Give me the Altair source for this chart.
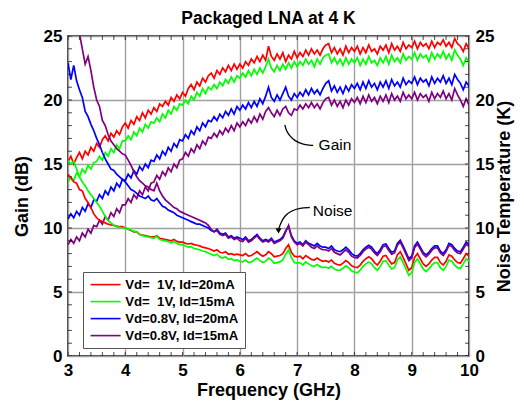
import altair as alt
import pandas as pd

# ---------------- data ----------------
FREQ = [round(3.0 + 0.05 * i, 2) for i in range(141)]  # GHz sample positions

SERIES = ["Vd=\u00a0 1V, Id=20mA", "Vd=\u00a0 1V, Id=15mA", "Vd=0.8V, Id=20mA", "Vd=0.8V, Id=15mA"]
COLORS = ["#ff0000", "#00ff00", "#0000ff", "#800080"]

GAIN_R = [15.2, 15.6, 15.0, 15.5, 15.9, 15.4, 16.0, 15.7, 16.3, 16.0,
          16.6, 16.3, 16.9, 17.2, 16.8, 17.4, 17.1, 17.6, 17.3, 17.9,
          18.2, 17.8, 18.4, 18.1, 18.7, 18.4, 19.0, 18.6, 19.2, 18.9,
          19.4, 19.1, 19.7, 19.5, 19.9, 19.6, 20.2, 19.9, 20.4, 20.1,
          20.6, 20.3, 20.9, 21.2, 20.8, 21.4, 21.1, 21.7, 21.4, 21.9,
          22.1, 21.7, 22.3, 22.0, 22.5, 22.2, 22.7, 22.3, 22.8, 22.4,
          22.8, 22.5, 23.0, 22.7, 23.2, 22.9, 23.4, 23.0, 23.5, 23.1,
          24.2, 23.4, 23.1, 23.6, 23.2, 23.7, 23.0, 23.5, 23.2, 23.8,
          23.3, 23.7, 23.4, 23.9, 23.5, 24.0, 23.6, 23.9, 23.5, 24.0,
          24.3, 24.4, 23.7, 24.1, 23.6, 24.0, 23.5, 24.2, 23.7, 24.1,
          23.8, 24.2, 23.6, 24.1, 23.7, 24.3, 23.8, 24.0, 23.6, 24.2,
          23.9, 24.3, 23.7, 24.4, 23.9, 24.2, 23.8, 24.5, 24.0, 24.3,
          24.1, 24.6, 24.0, 24.5, 24.2, 24.4, 24.0, 24.6, 24.1, 24.5,
          24.3, 24.7, 24.2, 24.5, 24.1, 24.8, 24.4, 24.2, 23.8, 24.4,
          24.0]
GAIN_G = [13.6, 14.0, 13.7, 14.3, 14.0, 14.6, 14.3, 14.9, 14.6, 15.1,
          15.2, 15.6, 15.3, 15.9, 15.6, 16.2, 15.9, 16.5, 16.2, 16.8,
          16.8, 17.2, 16.9, 17.5, 17.2, 17.8, 17.5, 18.1, 17.8, 18.3,
          18.2, 18.6, 18.3, 18.9, 18.6, 19.2, 18.9, 19.5, 19.2, 19.7,
          19.6, 20.0, 19.7, 20.3, 20.0, 20.6, 20.3, 20.9, 20.5, 21.0,
          20.8, 21.2, 20.9, 21.4, 21.1, 21.6, 21.3, 21.8, 21.4, 21.9,
          21.7, 22.1, 21.8, 22.3, 21.9, 22.4, 22.0, 22.5, 22.1, 22.6,
          23.2, 22.5, 22.2, 22.7, 22.3, 22.8, 22.4, 22.9, 22.5, 23.0,
          22.6, 23.0, 22.7, 23.2, 22.8, 23.1, 22.6, 23.2, 22.8, 23.3,
          23.5, 23.6, 22.9, 23.3, 22.8, 23.2, 22.7, 23.3, 22.8, 23.2,
          22.9, 23.3, 22.7, 23.2, 22.8, 23.4, 22.9, 23.1, 22.7, 23.3,
          22.9, 23.4, 22.8, 23.5, 23.0, 23.3, 22.9, 23.6, 23.1, 23.4,
          23.2, 23.7, 23.1, 23.6, 23.3, 23.5, 23.0, 23.7, 23.2, 23.6,
          23.3, 23.8, 23.2, 23.6, 23.1, 23.9, 23.5, 23.2, 22.7, 23.3,
          22.9]
GAIN_B = [10.7, 11.1, 10.8, 11.3, 11.0, 11.6, 11.3, 11.9, 11.6, 12.2,
          12.1, 12.6, 12.3, 12.9, 12.6, 13.2, 12.9, 13.5, 13.2, 13.8,
          13.7, 14.2, 13.9, 14.5, 14.2, 14.8, 14.5, 15.0, 14.7, 15.3,
          15.2, 15.7, 15.4, 16.0, 15.7, 16.3, 16.0, 16.6, 16.3, 16.9,
          16.8, 17.3, 17.0, 17.6, 17.3, 17.9, 17.6, 18.2, 17.9, 18.4,
          18.3, 18.7, 18.4, 18.9, 18.6, 19.1, 18.8, 19.3, 18.9, 19.5,
          19.2, 19.6, 19.3, 19.8, 19.4, 19.9, 19.5, 20.1, 19.7, 20.3,
          21.0, 20.2, 19.9, 20.4, 20.0, 20.5, 21.0, 20.3, 20.0, 20.5,
          20.2, 20.6, 20.3, 20.8, 20.4, 20.9, 20.5, 20.8, 20.4, 20.9,
          21.3, 21.5, 20.7, 21.1, 20.6, 21.0, 20.5, 21.1, 20.7, 21.2,
          20.9, 21.3, 20.8, 21.4, 20.9, 21.5, 21.0, 21.3, 20.8, 21.4,
          21.0, 21.5, 20.9, 21.6, 21.1, 21.4, 21.0, 21.7, 21.2, 21.5,
          21.3, 21.8, 21.2, 21.7, 21.4, 21.6, 21.1, 21.8, 21.3, 21.7,
          21.4, 21.9, 21.3, 21.7, 21.2, 22.0, 21.6, 21.3, 20.8, 21.4,
          21.1]
GAIN_P = [8.7, 9.1, 8.8, 9.3, 9.0, 9.6, 9.3, 9.9, 9.6, 10.2,
          10.1, 10.6, 10.3, 10.9, 10.6, 11.2, 10.9, 11.5, 11.2, 11.8,
          11.8, 12.3, 12.0, 12.6, 12.3, 12.9, 12.6, 13.2, 12.9, 13.5,
          13.6, 14.1, 13.8, 14.4, 14.1, 14.7, 14.4, 15.0, 14.7, 15.3,
          15.4, 15.9, 15.6, 16.2, 15.9, 16.5, 16.2, 16.8, 16.5, 17.1,
          17.0, 17.4, 17.1, 17.6, 17.3, 17.8, 17.5, 18.0, 17.6, 18.2,
          17.9, 18.3, 18.0, 18.5, 18.2, 18.7, 18.3, 18.9, 18.5, 19.1,
          19.4, 19.0, 18.7, 19.2, 18.8, 19.3, 19.5, 19.0, 18.8, 19.3,
          19.2, 19.6, 19.3, 19.7, 19.4, 19.8, 19.4, 19.7, 19.3, 19.8,
          20.1, 20.2, 19.6, 20.0, 19.5, 19.9, 19.4, 20.0, 19.6, 20.1,
          19.8, 20.2, 19.7, 20.3, 19.8, 20.4, 19.9, 20.2, 19.7, 20.3,
          19.9, 20.4, 19.8, 20.5, 20.0, 20.3, 19.9, 20.6, 20.1, 20.4,
          20.1, 20.6, 20.0, 20.5, 20.2, 20.4, 19.9, 20.6, 20.1, 20.5,
          20.2, 20.7, 20.1, 20.5, 20.0, 20.9, 20.4, 20.0, 19.5, 20.1,
          19.6]

NOISE_R = [14.2, 13.9, 13.6, 13.5, 13.0, 12.9, 12.3, 12.0, 11.6, 11.1,
           10.8, 10.6, 10.5, 10.4, 10.3, 10.25, 10.2, 10.15, 10.1, 10.1,
           10.0, 9.9, 9.8, 9.7, 9.7, 9.5, 9.45, 9.4, 9.35, 9.3,
           9.3, 9.4, 9.2, 9.15, 9.1, 9.05, 9.0, 9.1, 8.95, 8.9,
           8.9, 8.8, 8.75, 8.8, 8.7, 8.65, 8.6, 8.5, 8.45, 8.4,
           8.3, 8.2, 8.3, 8.1, 8.05, 8.15, 7.95, 8.0, 7.9, 7.95,
           7.9, 7.85, 8.0, 7.8, 7.85, 8.0, 8.15, 7.95, 7.8, 7.9,
           8.15, 8.0, 7.75, 7.8, 7.85, 8.0, 8.4, 8.7, 8.1, 7.8,
           7.75, 7.8, 7.6, 7.85, 7.7, 7.55, 7.5, 7.65, 7.5, 7.4,
           7.45, 7.35, 7.5, 7.25, 7.15, 7.1, 7.25, 7.45, 7.3, 7.05,
           6.95, 6.9, 7.1, 7.4, 7.6, 7.75, 7.6, 7.3, 7.1, 7.4,
           7.8, 7.85, 7.5, 7.2, 7.3, 7.9, 8.15, 7.7, 7.2, 6.7,
           6.9, 7.7, 8.0, 7.6, 7.2, 7.0, 7.2, 7.5, 7.7, 7.7,
           7.3, 7.1, 7.4, 7.9, 7.8, 7.5, 7.3, 7.25, 7.6, 8.0,
           7.8]
NOISE_G = [15.3, 15.0, 15.2, 14.6, 14.0, 13.6, 13.3, 12.9, 12.6, 12.3,
           12.0, 11.7, 11.3, 10.9, 10.6, 10.4, 10.2, 10.1, 10.05, 10.0,
           10.0, 9.95, 9.85, 9.75, 9.7, 9.5, 9.4, 9.35, 9.3, 9.25,
           9.2, 9.35, 9.1, 9.05, 9.0, 8.95, 8.85, 8.95, 8.8, 8.7,
           8.7, 8.6, 8.5, 8.55, 8.4, 8.35, 8.3, 8.2, 8.15, 8.05,
           7.95, 7.85, 7.95, 7.75, 7.65, 7.75, 7.55, 7.6, 7.45, 7.5,
           7.4, 7.35, 7.5, 7.3, 7.35, 7.5, 7.65, 7.45, 7.3, 7.4,
           7.65, 7.5, 7.25, 7.3, 7.35, 7.5, 7.95, 8.3, 7.7, 7.3,
           7.25, 7.3, 7.1, 7.35, 7.2, 7.05, 7.0, 7.15, 7.0, 6.9,
           6.95, 6.85, 7.0, 6.8, 6.7, 6.7, 6.85, 7.05, 6.9, 6.65,
           6.55, 6.5, 6.7, 7.0, 7.2, 7.35, 7.2, 6.9, 6.7, 7.0,
           7.4, 7.45, 7.1, 6.8, 6.9, 7.5, 7.75, 7.3, 6.8, 6.3,
           6.5, 7.3, 7.6, 7.2, 6.8, 6.6, 6.8, 7.1, 7.3, 7.3,
           6.9, 6.7, 7.0, 7.5, 7.4, 7.1, 6.9, 6.85, 7.2, 7.6,
           7.4]
NOISE_B = [22.9, 21.6, 22.7, 21.5, 20.8, 20.2, 19.1, 18.7, 18.1, 17.6,
           17.0, 16.5, 15.9, 15.4, 15.0, 14.6, 14.5, 14.2, 14.0, 13.8,
           13.6, 13.3, 13.0, 12.9, 12.7, 12.5, 12.4, 12.3, 12.5, 12.2,
           12.1, 12.3, 12.0, 11.7, 11.6, 11.4, 11.3, 11.2, 11.0, 10.9,
           10.8, 10.7, 10.6, 10.5, 10.4, 10.3, 10.3, 10.2, 10.1, 10.0,
           9.8, 9.7, 9.9, 9.6, 9.5, 9.6, 9.3, 9.4, 9.2, 9.3,
           9.2, 9.1, 9.3, 9.0, 9.1, 9.3, 9.5, 9.2, 9.0, 9.1,
           9.0, 9.2, 8.9, 9.0, 9.1, 9.3, 9.8, 10.1, 9.4, 9.0,
           8.8, 8.9, 8.7, 9.0, 8.8, 8.7, 8.6, 8.8, 8.6, 8.5,
           8.5, 8.4, 8.6, 8.3, 8.2, 8.15, 8.3, 8.5, 8.3, 8.0,
           7.85, 7.8, 8.0, 8.3, 8.5, 8.65, 8.5, 8.2, 8.0, 8.3,
           8.7, 8.75, 8.4, 8.1, 8.2, 8.8, 9.05, 8.6, 8.1, 7.6,
           7.8, 8.6, 8.9, 8.5, 8.1, 7.9, 8.1, 8.4, 8.6, 8.6,
           8.2, 8.0, 8.3, 8.8, 8.7, 8.4, 8.2, 8.15, 8.5, 8.9,
           8.7]
NOISE_P = [28.0, 27.0, 26.2, 25.6, 25.2, 24.0, 22.8, 23.4, 22.3, 21.0,
           20.0, 19.5, 18.4, 18.0, 17.3, 16.8, 16.5, 16.2, 16.0, 15.8,
           15.7, 15.3, 14.9, 14.4, 14.0, 13.7, 13.5, 13.3, 13.2, 13.0,
           12.9, 13.5, 12.9, 12.5, 12.2, 12.0, 11.8, 11.6, 11.5, 11.3,
           11.2, 11.1, 11.0, 10.9, 10.8, 10.7, 10.6, 10.5, 10.4, 10.2,
           9.9, 9.7, 9.8, 9.5, 9.4, 9.5, 9.2, 9.3, 9.1, 9.2,
           9.0, 8.95, 9.2, 8.9, 9.0, 9.2, 9.4, 9.1, 8.9, 9.0,
           8.9, 9.1, 8.8, 8.9, 9.0, 9.2, 9.7, 10.2, 9.3, 8.9,
           8.7, 8.8, 8.6, 8.9, 8.7, 8.5, 8.4, 8.6, 8.4, 8.3,
           8.3, 8.2, 8.4, 8.1, 8.0, 7.9, 8.1, 8.3, 8.1, 7.8,
           7.7, 7.65, 7.85, 8.15, 8.35, 8.5, 8.35, 8.05, 7.85, 8.15,
           8.55, 8.6, 8.25, 7.95, 8.05, 8.65, 8.9, 8.45, 7.95, 7.45,
           7.65, 8.45, 8.75, 8.35, 7.95, 7.75, 7.95, 8.25, 8.45, 8.45,
           8.05, 7.85, 8.15, 8.65, 8.55, 8.25, 8.05, 8.0, 8.35, 8.75,
           8.55]

# axis ticks
X_MAJOR = [3, 4, 5, 6, 7, 8, 9, 10]
Y_MAJOR = [0, 5, 10, 15, 20, 25]
X_MINOR = [round(3.0 + 0.2 * i, 1) for i in range(36)]
Y_MINOR = list(range(0, 26))

# annotations (data units)
ANNOT_TEXT = ["Gain", "Noise"]
ANNOT_F = [7.66, 7.62]
ANNOT_V = [16.48, 11.33]
GAIN_ARROW_F = [7.28, 7.10, 6.96, 6.86, 6.805, 6.787]
GAIN_ARROW_V = [16.45, 16.52, 16.80, 17.23, 17.66, 18.05]
NOISE_ARROW_F = [7.22, 7.05, 6.89, 6.79, 6.72, 6.68]
NOISE_ARROW_V = [11.60, 11.56, 11.33, 10.98, 10.47, 9.95]
NOISE_TIP_F = [6.675]
NOISE_TIP_V = [9.78]

FONT = "Liberation Sans"

for arr in [GAIN_R, GAIN_G, GAIN_B, GAIN_P, NOISE_R, NOISE_G, NOISE_B, NOISE_P]:
    assert len(arr) == len(FREQ), len(arr)


def long_df(lists, col):
    rows = []
    for s, vals in zip(SERIES, lists):
        for f, v in zip(FREQ, vals):
            rows.append({"f": f, col: v, "series": s})
    return pd.DataFrame(rows)


gain_df = long_df([GAIN_R, GAIN_G, GAIN_B, GAIN_P], "gain")
noise_df = long_df([NOISE_R, NOISE_G, NOISE_B, NOISE_P], "noise")

xscale = alt.Scale(domain=[3, 10], nice=False, zero=False)
yscale = alt.Scale(domain=[0, 25], nice=False)
cscale = alt.Scale(domain=SERIES, range=COLORS)

legend = alt.Legend(
    title=None, orient="none", legendX=15, legendY=236,
    symbolType="M-1,0H5", symbolSize=100, symbolStrokeWidth=1.6,
    labelFont=FONT, labelFontSize=13.2, labelFontWeight="bold", labelColor="black",
    labelOffset=23, padding=6, rowPadding=3, labelLimit=300,
    strokeColor="#555555", fillColor="white",
)

x_axis = alt.Axis(values=X_MAJOR, format="d", title="Frequency (GHz)", grid=True,
                  ticks=False, tickSize=0, domain=False, labelPadding=6,
                  titlePadding=3, labelFlush=False, labelOverlap=False)
y_left_axis = alt.Axis(values=Y_MAJOR, title="Gain (dB)", grid=True, ticks=False,
                       tickSize=0, domain=False, labelPadding=6, titlePadding=12,
                       labelFlush=False, labelOverlap=False)
y_right_axis = alt.Axis(values=Y_MAJOR, orient="right", title="Noise Temperature (K)",
                        grid=False, ticks=False, tickSize=0, domain=False,
                        labelPadding=6, titlePadding=2, titleAngle=270,
                        titleBaseline="top", labelFlush=False, labelOverlap=False)

X = alt.X("f:Q", scale=xscale, axis=x_axis, title="Frequency (GHz)")
Y = alt.Y("gain:Q", scale=yscale, axis=y_left_axis, title="Gain (dB)")

gain_line = alt.Chart(gain_df).mark_line(strokeWidth=1.7, clip=True).encode(
    x=X, y=Y,
    color=alt.Color("series:N", scale=cscale, legend=legend),
)

bt = pd.DataFrame({"f": X_MINOR, "gain": [0] * len(X_MINOR)})
tt = pd.DataFrame({"f": X_MINOR, "gain": [25] * len(X_MINOR)})
lt = pd.DataFrame({"f": [3] * len(Y_MINOR), "gain": Y_MINOR})
rt = pd.DataFrame({"f": [10] * len(Y_MINOR), "gain": Y_MINOR})


def ticks(df, orient):
    return alt.Chart(df).mark_tick(orient=orient, size=8, thickness=1, color="black",
                                   clip=True).encode(x=X, y=Y)


annot_df = pd.DataFrame({"f": ANNOT_F, "gain": ANNOT_V, "t": ANNOT_TEXT})
annot = alt.Chart(annot_df).mark_text(font=FONT, fontSize=15.5, color="black",
                                      align="center", baseline="middle").encode(
    x=X, y=Y, text="t:N",
)

arrow_rows = []
for name, fs, vs in [("gain", GAIN_ARROW_F, GAIN_ARROW_V), ("noise", NOISE_ARROW_F, NOISE_ARROW_V)]:
    for k, (f, v) in enumerate(zip(fs, vs)):
        arrow_rows.append({"a": name, "k": k, "f": f, "gain": v})
arrow_df = pd.DataFrame(arrow_rows)
arrows = alt.Chart(arrow_df).mark_line(color="black", strokeWidth=1.3,
                                       interpolate="basis").encode(
    x=X, y=Y, detail="a:N", order="k:Q",
)
tip = alt.Chart(pd.DataFrame({"f": NOISE_TIP_F, "gain": NOISE_TIP_V})).mark_point(
    shape="triangle-down", filled=True, size=38, color="black", opacity=1).encode(
    x=X, y=Y,
)

left = alt.layer(gain_line, ticks(bt, "vertical"), ticks(tt, "vertical"),
                 ticks(lt, "horizontal"), ticks(rt, "horizontal"), annot, arrows, tip)

noise_line = alt.Chart(noise_df).mark_line(strokeWidth=1.7, clip=True).encode(
    x=X,
    y=alt.Y("noise:Q", scale=yscale, axis=y_right_axis, title="Noise Temperature (K)"),
    color=alt.Color("series:N", scale=cscale, legend=legend),
)

chart = alt.layer(left, noise_line).resolve_scale(y="independent").properties(
    width=401, height=320,
    padding={"left": 60, "top": 28, "right": 47, "bottom": 45},
    autosize=alt.AutoSizeParams(type="none"),
    title=alt.TitleParams(text="Packaged LNA at 4 K", font=FONT, fontSize=17.5,
                          fontWeight="bold", color="black", anchor="middle", offset=0),
).configure_view(stroke="black", strokeWidth=1.5).configure_axis(
    labelFont=FONT, labelFontSize=17, labelFontWeight="bold", labelColor="black",
    titleFont=FONT, titleFontSize=18, titleFontWeight="bold", titleColor="black",
    gridColor="#a0a0a0", gridWidth=1.4,
)

chart.save("out.html", embed_options={"renderer": "svg", "actions": False})
